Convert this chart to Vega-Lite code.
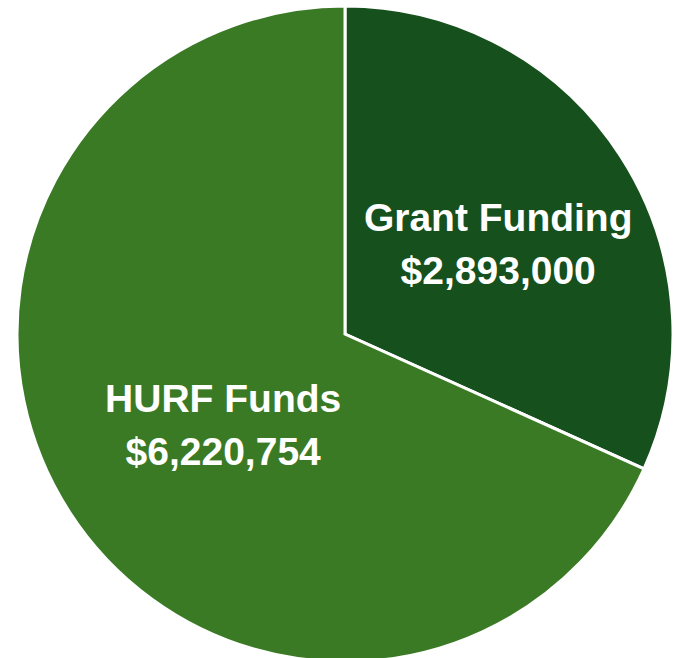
{
  "$schema": "https://vega.github.io/schema/vega-lite/v6.json",
  "width": 690,
  "height": 668,
  "autosize": {"type": "none"},
  "padding": 0,
  "background": "white",
  "view": {"stroke": null},
  "data": {
    "values": [
      {"label": "Grant Funding", "amount": "$2,893,000", "value": 2893000},
      {"label": "HURF Funds", "amount": "$6,220,754", "value": 6220754}
    ]
  },
  "transform": [
    {"calculate": "datum.label + '\\n' + datum.amount", "as": "text"}
  ],
  "encoding": {
    "theta": {"field": "value", "type": "quantitative", "stack": true},
    "order": {"field": "label", "sort": "ascending"}
  },
  "layer": [
    {
      "mark": {"type": "arc", "outerRadius": 328, "stroke": "white", "strokeWidth": 3},
      "encoding": {
        "color": {
          "field": "label",
          "type": "nominal",
          "scale": {"domain": ["Grant Funding", "HURF Funds"], "range": ["#15501d", "#3b7a25"]},
          "legend": null
        }
      }
    },
    {
      "mark": {"type": "text", "radius": 180, "dx": 2, "dy": -17, "font": "Liberation Sans", "fontWeight": "bold", "fontSize": 39, "color": "white", "lineBreak": "\n", "lineHeight": 53, "baseline": "middle", "align": "center"},
      "encoding": {
        "text": {"condition": {"test": "datum.label == 'Grant Funding'", "field": "text"}, "value": ""}
      }
    },
    {
      "mark": {"type": "text", "radius": 151, "dx": 5, "dy": -16, "font": "Liberation Sans", "fontWeight": "bold", "fontSize": 39, "color": "white", "lineBreak": "\n", "lineHeight": 53, "baseline": "middle", "align": "center"},
      "encoding": {
        "text": {"condition": {"test": "datum.label == 'HURF Funds'", "field": "text"}, "value": ""}
      }
    }
  ]
}
